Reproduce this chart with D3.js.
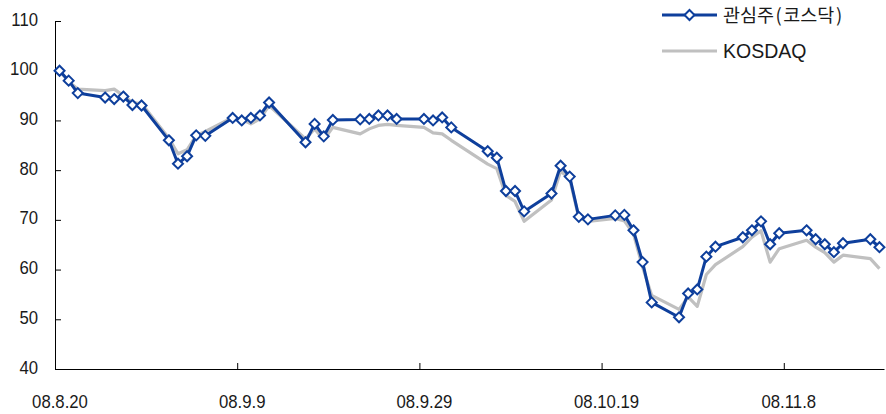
<!DOCTYPE html>
<html>
<head>
<meta charset="utf-8">
<script src="https://cdn.jsdelivr.net/npm/d3@7"></script>
<style>
  html, body { margin: 0; padding: 0; background: #ffffff; }
  svg { display: block; }
  .tick-label { font-family: "Liberation Sans", Arial, sans-serif; font-size: 18px; fill: #1a1a1a; }
</style>
</head>
<body>
<svg id="chart" width="886" height="414"></svg>
<script>
// Trading days, 2008-08-20 .. 2008-11-18
const dates = ["2008-08-20","2008-08-21","2008-08-22","2008-08-25","2008-08-26","2008-08-27","2008-08-28","2008-08-29",
  "2008-09-01","2008-09-02","2008-09-03","2008-09-04","2008-09-05","2008-09-08","2008-09-09","2008-09-10","2008-09-11","2008-09-12",
  "2008-09-16","2008-09-17","2008-09-18","2008-09-19","2008-09-22","2008-09-23","2008-09-24","2008-09-25","2008-09-26","2008-09-29","2008-09-30",
  "2008-10-01","2008-10-02","2008-10-06","2008-10-07","2008-10-08","2008-10-09","2008-10-10","2008-10-13","2008-10-14","2008-10-15","2008-10-16","2008-10-17",
  "2008-10-20","2008-10-21","2008-10-22","2008-10-23","2008-10-24","2008-10-27","2008-10-28","2008-10-29","2008-10-30","2008-10-31",
  "2008-11-03","2008-11-04","2008-11-05","2008-11-06","2008-11-07","2008-11-10","2008-11-11","2008-11-12","2008-11-13","2008-11-14","2008-11-17","2008-11-18"];

// Watch-list basket (KOSDAQ), indexed to 100
const watchList = [100, 98.0, 95.5, 94.6, 94.3, 94.8, 93.1, 93.0,
  86.0, 81.3, 82.8, 87.0, 86.9, 90.5, 90.0, 90.5, 91.0, 93.6,
  85.6, 89.3, 86.8, 90.1, 90.2, 90.3, 91.0, 91.0, 90.3, 90.3, 90.0,
  90.6, 88.6, 83.8, 82.5, 75.8, 75.8, 71.7, 75.3, 80.9, 78.7, 70.6, 70.1,
  70.9, 71.0, 67.9, 61.5, 53.4, 50.4, 55.2, 56.0, 62.6, 64.6,
  66.5, 67.9, 69.7, 65.1, 67.3, 67.9, 66.1, 65.1, 63.5, 65.3, 66.1, 64.5];

// KOSDAQ index, indexed to 100
const kosdaq = [100, 97.8, 96.3, 96.0, 96.3, 95.0, 93.6, 93.4,
  86.4, 83.3, 84.1, 87.0, 87.8, 90.6, 90.2, 89.3, 90.3, 93.0,
  86.3, 88.3, 86.1, 88.6, 87.3, 88.3, 89.0, 89.2, 89.0, 88.6, 87.5,
  87.3, 86.0, 81.2, 80.3, 74.9, 73.7, 69.7, 74.0, 79.8, 78.3, 70.4, 69.7,
  70.3, 69.8, 67.2, 60.5, 54.8, 52.0, 54.5, 52.6, 59.0, 61.0,
  64.6, 66.5, 67.8, 61.5, 64.2, 65.9, 64.5, 63.4, 61.5, 62.9, 62.2, 60.2];

const xTickDates = ["2008-08-20","2008-09-09","2008-09-29","2008-10-19","2008-11-08"];
const xTickLabels = ["08.8.20","08.9.9","08.9.29","08.10.19","08.11.8"];
const yTicks = [40, 50, 60, 70, 80, 90, 100, 110];
const seriesNames = ["관심주(코스닥)", "KOSDAQ"];

const BLUE = "#0e3f9c";
const GRAY = "#c0c0c0";

const parse = d3.timeParse("%Y-%m-%d");
const svg = d3.select("#chart");

const x = d3.scaleTime()
  .domain([parse("2008-08-20"), parse("2008-11-19")])
  .range([55, 884]);
const y = d3.scaleLinear().domain([40, 110]).range([369, 21]);

// each trading day sits in the middle of its day slot
const midDay = d => d3.timeHour.offset(parse(d), 12);

// y axis (ticks pointing into the plot)
const yAxis = svg.append("g")
  .attr("transform", "translate(55,0)")
  .call(d3.axisLeft(y).tickValues(yTicks).tickSize(-6).tickSizeOuter(0).tickFormat(d3.format("d")));
yAxis.selectAll("path, line").attr("stroke", "#000");
yAxis.selectAll("text")
  .attr("class", "tick-label")
  .attr("text-anchor", "end")
  .attr("x", 0).attr("dy", 0)
  .attr("transform", "translate(-17,4) scale(0.93,1)");

// x axis
const xAxis = svg.append("g")
  .attr("transform", "translate(0,369)")
  .call(d3.axisBottom(x).tickValues(xTickDates.map(parse)).tickSize(-6).tickSizeOuter(0)
    .tickFormat((d, i) => xTickLabels[i]));
xAxis.selectAll("path, line").attr("stroke", "#000");
xAxis.selectAll("text")
  .attr("class", "tick-label")
  .attr("text-anchor", "middle")
  .attr("x", 0).attr("y", 0).attr("dy", 0)
  .attr("transform", "translate(4.5,39) scale(0.93,1)");

const line = d3.line()
  .x((d, i) => x(midDay(dates[i])))
  .y(d => y(d));

svg.append("path")
  .datum(kosdaq)
  .attr("d", line)
  .attr("fill", "none")
  .attr("stroke", GRAY)
  .attr("stroke-width", 3.2)
  .attr("stroke-linejoin", "round");

svg.append("path")
  .datum(watchList)
  .attr("d", line)
  .attr("fill", "none")
  .attr("stroke", BLUE)
  .attr("stroke-width", 3)
  .attr("stroke-linejoin", "round");

const diamond = "M0,-5L5,0L0,5L-5,0Z";
svg.append("g").selectAll("path")
  .data(watchList)
  .join("path")
  .attr("d", diamond)
  .attr("transform", (d, i) => `translate(${x(midDay(dates[i]))},${y(d)})`)
  .attr("fill", "#fff")
  .attr("stroke", BLUE)
  .attr("stroke-width", 2);

// legend
const legend = svg.append("g");
legend.append("line").attr("x1", 662).attr("x2", 717).attr("y1", 15).attr("y2", 15)
  .attr("stroke", BLUE).attr("stroke-width", 3.2);
legend.append("path").attr("d", diamond).attr("transform", "translate(689.5,15)")
  .attr("fill", "#fff").attr("stroke", BLUE).attr("stroke-width", 2);
const t1 = legend.append("text")
  .attr("x", 723).attr("y", 22)
  .attr("font-family", "'Noto Sans CJK KR', sans-serif")
  .attr("font-size", 18.5).attr("fill", "#1a1a1a");
// split so the brackets get a little breathing room
t1.append("tspan").text(seriesNames[0].slice(0, 3));
t1.append("tspan").attr("dx", 1.5).text(seriesNames[0].slice(3, 4));
t1.append("tspan").attr("dx", 1.5).text(seriesNames[0].slice(4, 7));
t1.append("tspan").attr("dx", 1.5).text(seriesNames[0].slice(7));

legend.append("line").attr("x1", 662).attr("x2", 717).attr("y1", 51).attr("y2", 51)
  .attr("stroke", GRAY).attr("stroke-width", 3.2);
legend.append("text")
  .attr("x", 723).attr("y", 57.5)
  .attr("font-family", "'Liberation Sans', Arial, sans-serif")
  .attr("font-size", 19.5).attr("fill", "#1a1a1a")
  .text(seriesNames[1]);
</script>
</body>
</html>
